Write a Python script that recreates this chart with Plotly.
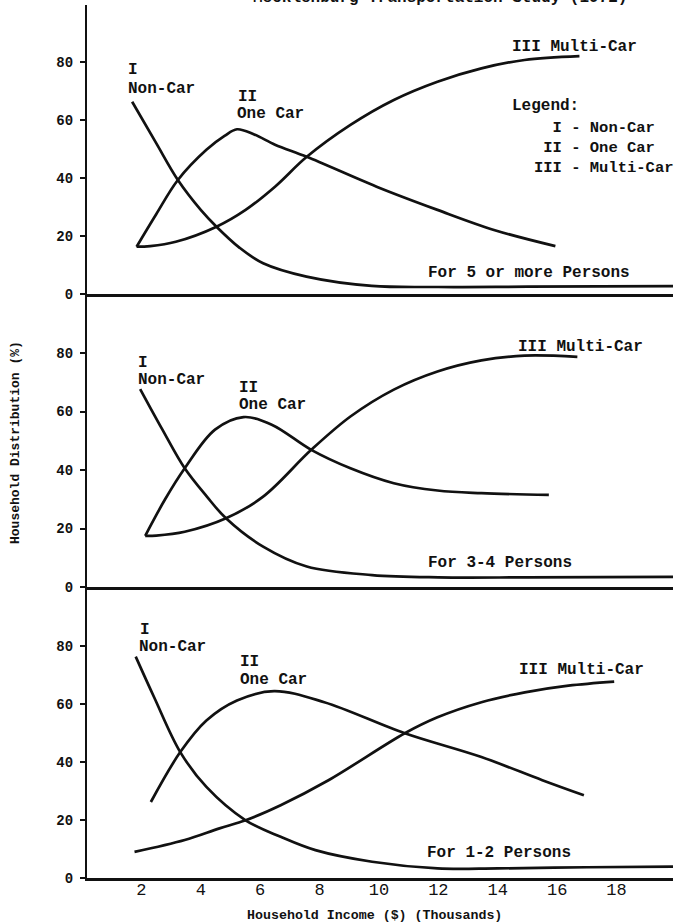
import plotly.graph_objects as go

# ---------------- data ----------------
panel_titles = ["For 5 or more Persons", "For 3-4 Persons", "For 1-2 Persons"]
legend_lines = ["\u00a0\u00a0I - Non-Car", "\u00a0II - One Car", "III - Multi-Car"]
chart_title = "Mecklenburg Transportation Study (1972)"
x_tick_vals = [2, 4, 6, 8, 10, 12, 14, 16, 18]
x_tick_text = ["2", "4", "6", "8", "10", "12", "14", "16", "18"]
y_tick_vals = [0, 20, 40, 60, 80]

# For 5 or more persons
p5_noncar_x = [1.69, 2.5, 3.23, 4.0, 4.53, 5.3, 6.1, 7.56, 9.76, 12.0, 15.0, 19.9]
p5_noncar_y = [66.3, 52.0, 39.3, 29.0, 23.2, 16.0, 10.6, 6.0, 2.8, 2.4, 2.5, 2.7]
p5_onecar_x = [1.84, 2.5, 3.23, 4.19, 4.8, 5.22, 5.8, 6.5, 7.57, 9.92, 11.97, 13.9, 15.94]
p5_onecar_y = [16.3, 27.5, 39.3, 49.7, 54.5, 56.8, 55.0, 51.5, 47.3, 37.0, 29.0, 22.0, 16.5]
p5_multi_x = [1.84, 2.3, 3.16, 4.53, 5.51, 6.5, 7.57, 9.04, 10.5, 11.97, 13.45, 14.9, 16.75]
p5_multi_y = [16.3, 16.5, 18.0, 23.2, 29.0, 37.0, 47.3, 58.3, 66.9, 73.2, 77.8, 80.7, 82.0]

# For 3-4 persons
p34_noncar_x = [1.96, 2.7, 3.46, 4.2, 4.85, 6.1, 7.57, 9.77, 12.0, 15.0, 19.9]
p34_noncar_y = [67.7, 54.0, 40.6, 31.0, 23.5, 13.8, 7.0, 4.1, 3.3, 3.3, 3.5]
p34_onecar_x = [2.13, 2.8, 3.46, 4.48, 5.44, 6.39, 7.72, 9.04, 10.5, 11.97, 13.45, 15.72]
p34_onecar_y = [17.5, 30.0, 40.6, 53.8, 58.1, 55.5, 46.9, 40.6, 35.5, 33.0, 32.1, 31.5]
p34_multi_x = [2.13, 2.5, 3.46, 4.85, 6.1, 7.72, 9.04, 10.5, 11.97, 13.45, 14.9, 16.68]
p34_multi_y = [17.5, 17.6, 18.9, 23.5, 30.9, 46.9, 58.3, 67.5, 73.7, 77.5, 79.1, 78.7]

# For 1-2 persons
p12_noncar_x = [1.81, 2.43, 3.31, 4.19, 5.51, 6.69, 7.86, 9.77, 11.97, 14.0, 17.0, 19.9]
p12_noncar_y = [76.3, 62.3, 43.4, 31.4, 19.9, 14.2, 9.6, 5.6, 3.3, 3.3, 3.7, 3.9]
p12_onecar_x = [2.32, 3.31, 4.19, 5.22, 6.47, 8.16, 10.87, 13.45, 15.5, 16.9]
p12_onecar_y = [26.2, 43.4, 54.3, 61.2, 64.4, 60.6, 49.9, 41.7, 33.7, 28.5]
p12_multi_x = [1.77, 3.46, 4.63, 5.51, 6.69, 8.3, 10.87, 11.97, 13.45, 14.91, 16.38, 17.92]
p12_multi_y = [9.0, 13.1, 17.1, 19.9, 25.1, 33.7, 49.9, 55.4, 60.6, 64.0, 66.3, 67.7]

# ---------------- figure ----------------
FONT = "Liberation Mono"
INK = "#111111"

panels = [
    ("x", "y", [(p5_noncar_x, p5_noncar_y), (p5_onecar_x, p5_onecar_y), (p5_multi_x, p5_multi_y)]),
    ("x2", "y2", [(p34_noncar_x, p34_noncar_y), (p34_onecar_x, p34_onecar_y), (p34_multi_x, p34_multi_y)]),
    ("x3", "y3", [(p12_noncar_x, p12_noncar_y), (p12_onecar_x, p12_onecar_y), (p12_multi_x, p12_multi_y)]),
]

fig = go.Figure()
for xa, ya, series in panels:
    for sx, sy in series:
        fig.add_trace(go.Scatter(
            x=sx, y=sy, xaxis=xa, yaxis=ya, mode="lines",
            line=dict(color=INK, width=2.7, shape="spline", smoothing=1.0),
            hoverinfo="skip", showlegend=False,
        ))

xcommon = dict(range=[0.17, 19.9], showgrid=False, zeroline=False, showline=True,
               linecolor=INK, linewidth=2.6, fixedrange=True)
ycommon = dict(showgrid=False, zeroline=False, showline=True, linecolor=INK, linewidth=2.2,
               tickvals=y_tick_vals, ticks="outside", ticklen=5, tickwidth=2, tickcolor=INK,
               ticklabelstandoff=4,
               tickfont=dict(family=FONT, size=14, color=INK, weight="bold"), fixedrange=True)

fig.update_layout(
    width=681, height=922,
    margin=dict(l=87, r=8, t=5, b=44),
    paper_bgcolor="white", plot_bgcolor="white", showlegend=False,
    xaxis=dict(**xcommon, anchor="y", showticklabels=False, ticks=""),
    xaxis2=dict(**xcommon, anchor="y2", showticklabels=False, ticks=""),
    xaxis3=dict(**xcommon, anchor="y3", tickvals=x_tick_vals, ticktext=x_tick_text, ticks="",
                ticklabelstandoff=-6,
                tickfont=dict(family=FONT, size=17, color=INK)),
    yaxis=dict(**ycommon, domain=[0.669, 1.0], range=[0, 99.66], anchor="x"),
    yaxis2=dict(**ycommon, domain=[0.3333, 0.669], range=[0, 100.2], anchor="x2"),
    yaxis3=dict(**ycommon, domain=[0.0, 0.3333], range=[0, 100.3], anchor="x3"),
)

LBL = dict(family=FONT, size=16, color=INK, weight="bold")


def label(text, x, y, yref, xref, font=LBL):
    fig.add_annotation(text=text, x=x, y=y, xref=xref, yref=yref, showarrow=False,
                       xanchor="left", yanchor="middle", align="left", font=font)


# top panel labels
label("I", 1.47, 77.2, "y", "x")
label("Non-Car", 1.47, 70.6, "y", "x")
label("II", 5.18, 68.0, "y", "x")
label("One Car", 5.14, 62.0, "y", "x")
label("III Multi-Car", 14.41, 85.3, "y", "x")
label("Legend:", 14.41, 64.8, "y", "x")
label("<br>".join(legend_lines), 15.14, 50.2, "y", "x",
      font=dict(family=FONT, size=15.5, color=INK, weight="bold"))
label(panel_titles[0], 11.58, 7.3, "y", "x")

# middle panel labels
label("I", 1.82, 76.6, "y2", "x2")
label("Non-Car", 1.82, 70.7, "y2", "x2")
label("II", 5.22, 68.0, "y2", "x2")
label("One Car", 5.22, 62.3, "y2", "x2")
label("III Multi-Car", 14.62, 82.0, "y2", "x2")
label(panel_titles[1], 11.6, 8.1, "y2", "x2")

# bottom panel labels
label("I", 1.89, 85.5, "y3", "x3")
label("Non-Car", 1.87, 79.5, "y3", "x3")
label("II", 5.27, 74.6, "y3", "x3")
label("One Car", 5.25, 68.3, "y3", "x3")
label("III Multi-Car", 14.66, 71.7, "y3", "x3")
label(panel_titles[2], 11.56, 8.5, "y3", "x3")

# axis titles and (cropped) chart title
fig.add_annotation(text="Household Income ($) (Thousands)", xref="paper", yref="paper",
                   x=0.491, y=-0.0424, xanchor="center", yanchor="middle", showarrow=False,
                   font=dict(family=FONT, size=13.3, color=INK, weight="bold"))
fig.add_annotation(text="Household Distribution (%)", xref="paper", yref="paper",
                   x=-0.1229, y=0.4994, xanchor="center", yanchor="middle", showarrow=False,
                   textangle=-90, font=dict(family=FONT, size=13, color=INK, weight="bold"))
fig.add_annotation(text=chart_title, xref="paper", yref="paper",
                   x=0.6032, y=1.0078, xanchor="center", yanchor="middle", showarrow=False,
                   font=dict(family=FONT, size=16, color=INK, weight="bold"))

fig.write_html("out.html")
